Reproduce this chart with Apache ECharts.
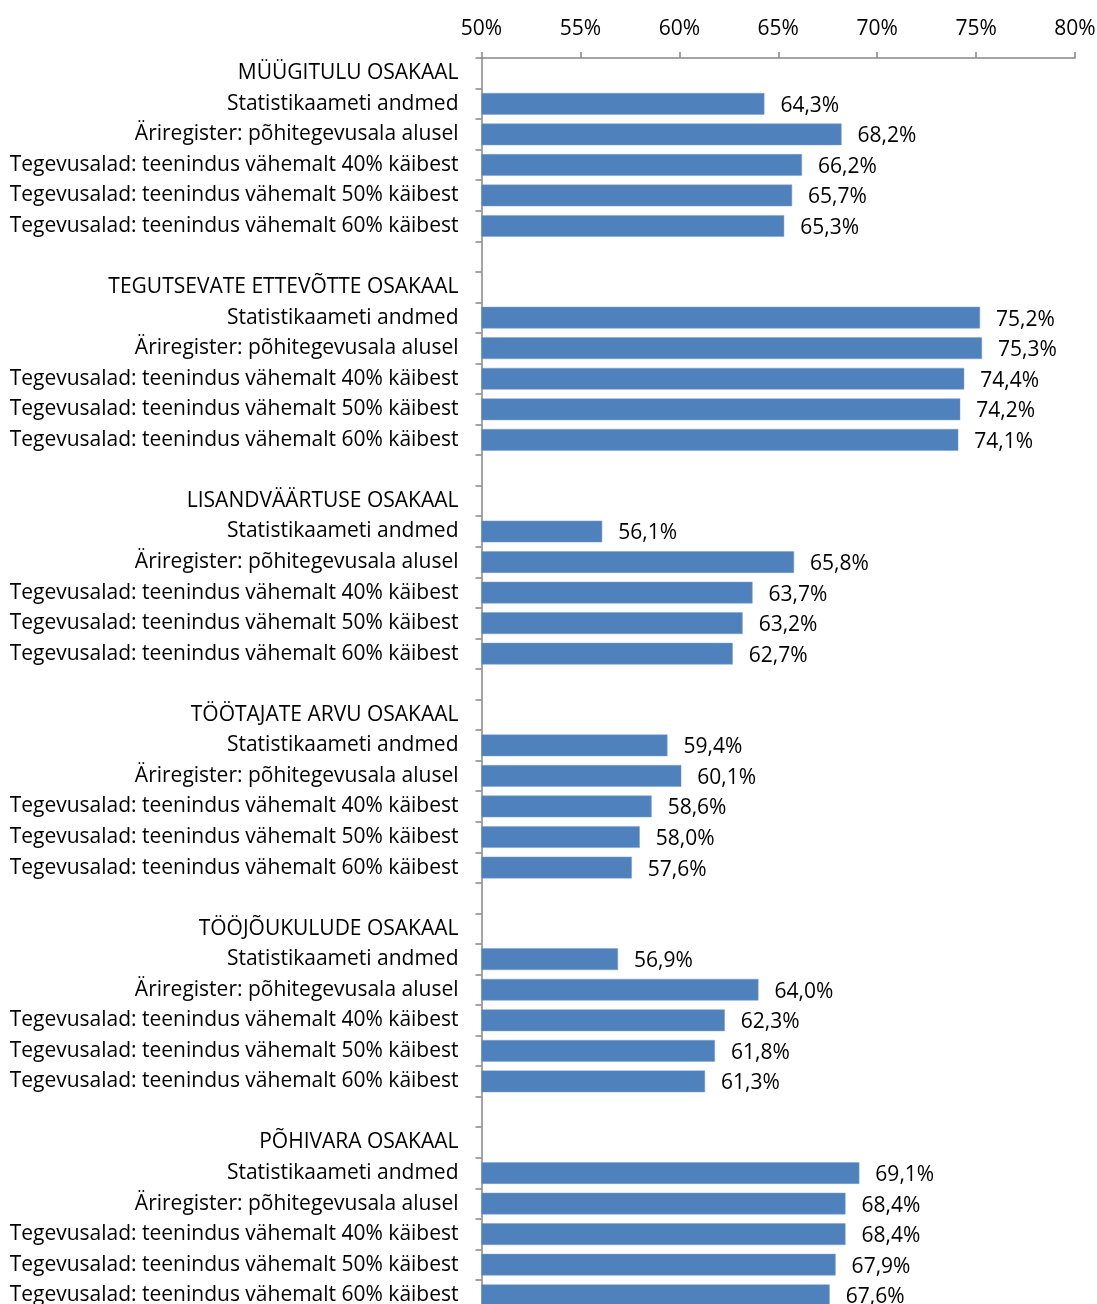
<!DOCTYPE html>
<html>
<head>
<meta charset="utf-8">
<style>
html,body{margin:0;padding:0;background:#fff;}
#chart{width:1097px;height:1304px;}
</style>
<script src="https://cdn.jsdelivr.net/npm/echarts@6/dist/echarts.min.js"></script>
</head>
<body>
<div id="chart"></div>
<script>
const groups = [
  'MÜÜGITULU OSAKAAL',
  'TEGUTSEVATE ETTEVÕTTE OSAKAAL',
  'LISANDVÄÄRTUSE OSAKAAL',
  'TÖÖTAJATE ARVU OSAKAAL',
  'TÖÖJÕUKULUDE OSAKAAL',
  'PÕHIVARA OSAKAAL'
];
const items = [
  'Statistikaameti andmed',
  'Äriregister: põhitegevusala alusel',
  'Tegevusalad: teenindus vähemalt 40% käibest',
  'Tegevusalad: teenindus vähemalt 50% käibest',
  'Tegevusalad: teenindus vähemalt 60% käibest'
];
const valuesMyygitulu   = [64.3, 68.2, 66.2, 65.7, 65.3];
const valuesTegutsevad  = [75.2, 75.3, 74.4, 74.2, 74.1];
const valuesLisandvaartus = [56.1, 65.8, 63.7, 63.2, 62.7];
const valuesTootajad    = [59.4, 60.1, 58.6, 58.0, 57.6];
const valuesToojoukulud = [56.9, 64.0, 62.3, 61.8, 61.3];
const valuesPohivara    = [69.1, 68.4, 68.4, 67.9, 67.6];
const xTicks = [50, 55, 60, 65, 70, 75, 80];

const groupValues = [valuesMyygitulu, valuesTegutsevad, valuesLisandvaartus, valuesTootajad, valuesToojoukulud, valuesPohivara];

const categories = [];
const data = [];
groups.forEach((g, gi) => {
  categories.push(g); data.push('-');
  items.forEach((it, ii) => { categories.push(it); data.push(groupValues[gi][ii]); });
  if (gi < groups.length - 1) { categories.push(' '.repeat(gi + 1)); data.push('-'); }
});

const FONT = 'Open Sans';
const FS = 21;
const chart = echarts.init(document.getElementById('chart'), null, {renderer: 'canvas'});
chart.setOption({
  animation: false,
  grid: {left: 481.5, right: 22, top: 58, height: 1252.5, containLabel: false, outerBoundsMode: 'none'},
  xAxis: {
    type: 'value', position: 'top',
    min: xTicks[0], max: xTicks[xTicks.length - 1], interval: 5,
    axisLine: {show: true, lineStyle: {color: '#868686', width: 1.5}},
    axisTick: {show: true, inside: false, length: 6, lineStyle: {color: '#868686', width: 1.5}},
    splitLine: {show: false},
    axisLabel: {margin: 18, color: '#000', fontFamily: FONT, fontSize: FS, formatter: v => v + '%'}
  },
  yAxis: {
    type: 'category', inverse: true, data: categories,
    axisLine: {show: true, lineStyle: {color: '#868686', width: 1.5}},
    axisTick: {show: true, inside: false, length: 6, lineStyle: {color: '#868686', width: 1.5}},
    axisLabel: {margin: 23, color: '#000', fontFamily: FONT, fontSize: FS, interval: 0}
  },
  series: [{
    type: 'bar', data: data, barCategoryGap: '29%',
    itemStyle: {color: '#4F81BD', borderColor: '#7A9FCF', borderWidth: 0.5},
    label: {
      show: true, position: 'right', distance: 16, offset: [0, 2],
      color: '#000', fontFamily: FONT, fontSize: FS,
      formatter: p => p.value.toFixed(1).replace('.', ',') + '%'
    }
  }]
});
</script>
</body>
</html>
